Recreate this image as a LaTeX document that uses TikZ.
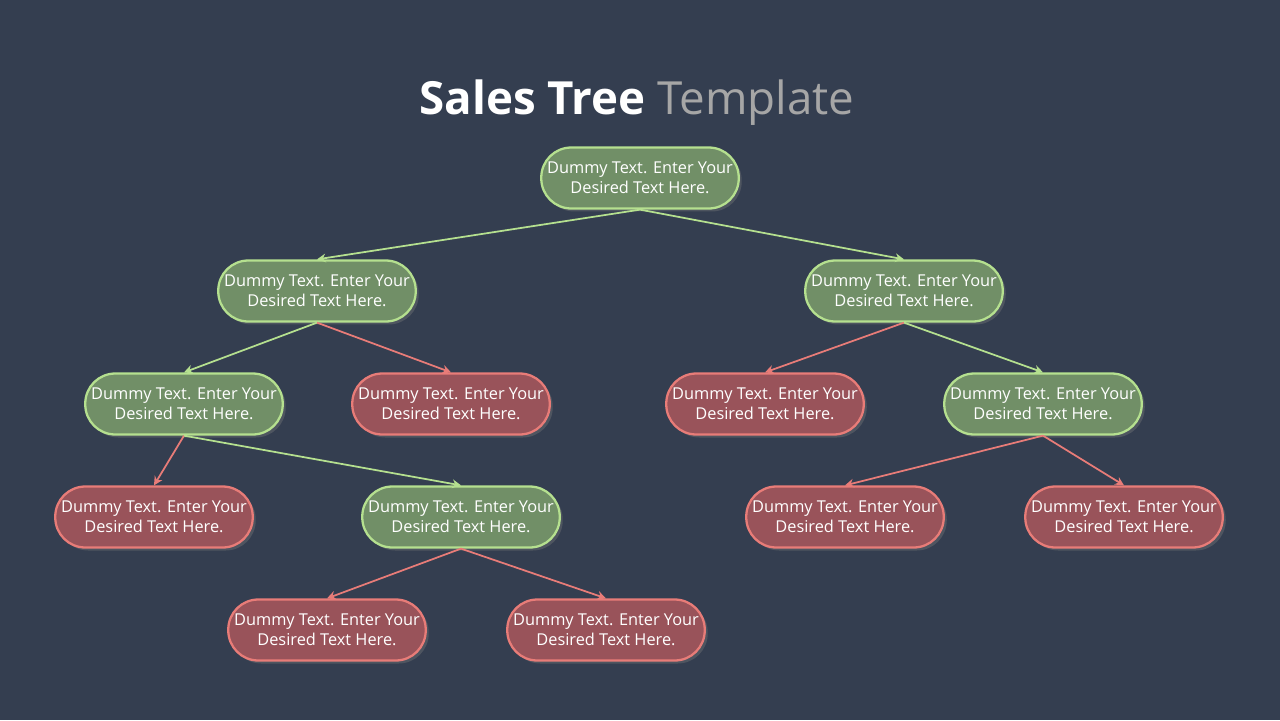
\documentclass[tikz,border=0pt]{standalone}
\usepackage{fontspec}
\setmainfont{Open Sans}
\usetikzlibrary{arrows.meta,shadows}
\definecolor{bg}{HTML}{343E50}
\definecolor{gfill}{HTML}{718F67}
\definecolor{gline}{HTML}{B5E08F}
\definecolor{rfill}{HTML}{99535A}
\definecolor{rline}{HTML}{E87C78}
\definecolor{tgrey}{HTML}{A6A6A6}
\tikzset{
  box/.style={rounded corners=0.6cm, minimum width=3.95cm, minimum height=1.22cm, line width=1.3pt,
    text=white, align=center, font=\fontsize{9.3pt}{11.5pt}\selectfont,
    drop shadow={shadow xshift=0.06cm, shadow yshift=-0.06cm, opacity=0.35}},
  gbox/.style={box, draw=gline, fill=gfill},
  rbox/.style={box, draw=rline, fill=rfill},
  gedge/.style={draw=gline, line width=1pt, -{Stealth[length=5pt,width=5pt]}},
  redge/.style={draw=rline, line width=1pt, -{Stealth[length=5pt,width=5pt]}}
}
\newcommand{\dt}{Dummy Text. Enter Your\\Desired Text Here.}
\begin{document}
\begin{tikzpicture}[x=0.02cm,y=-0.02cm]
\fill[bg] (0,0) rectangle (1280,720);
\useasboundingbox (0,0) rectangle (1280,720);
\node (title) at (637,103) {\fontsize{26pt}{30pt}\selectfont\textbf{\color{white}Sales Tree} \color{tgrey}Template};
\node[gbox] (a) at (640,178) {\dt};
\node[gbox] (b) at (317,291) {\dt};
\node[gbox] (c) at (904,291) {\dt};
\node[gbox] (d) at (184,404) {\dt};
\node[rbox] (e) at (451,404) {\dt};
\node[rbox] (f) at (765,404) {\dt};
\node[gbox] (g) at (1043,404) {\dt};
\node[rbox] (h) at (154,517) {\dt};
\node[gbox] (i) at (461,517) {\dt};
\node[rbox] (j) at (845,517) {\dt};
\node[rbox] (k) at (1124,517) {\dt};
\node[rbox] (l) at (327,630) {\dt};
\node[rbox] (m) at (606,630) {\dt};
\draw[gedge] (a.south) -- (b.north);
\draw[gedge] (a.south) -- (c.north);
\draw[gedge] (b.south) -- (d.north);
\draw[redge] (b.south) -- (e.north);
\draw[redge] (c.south) -- (f.north);
\draw[gedge] (c.south) -- (g.north);
\draw[redge] (d.south) -- (h.north);
\draw[gedge] (d.south) -- (i.north);
\draw[redge] (g.south) -- (j.north);
\draw[redge] (g.south) -- (k.north);
\draw[redge] (i.south) -- (l.north);
\draw[redge] (i.south) -- (m.north);
\end{tikzpicture}
\end{document}
